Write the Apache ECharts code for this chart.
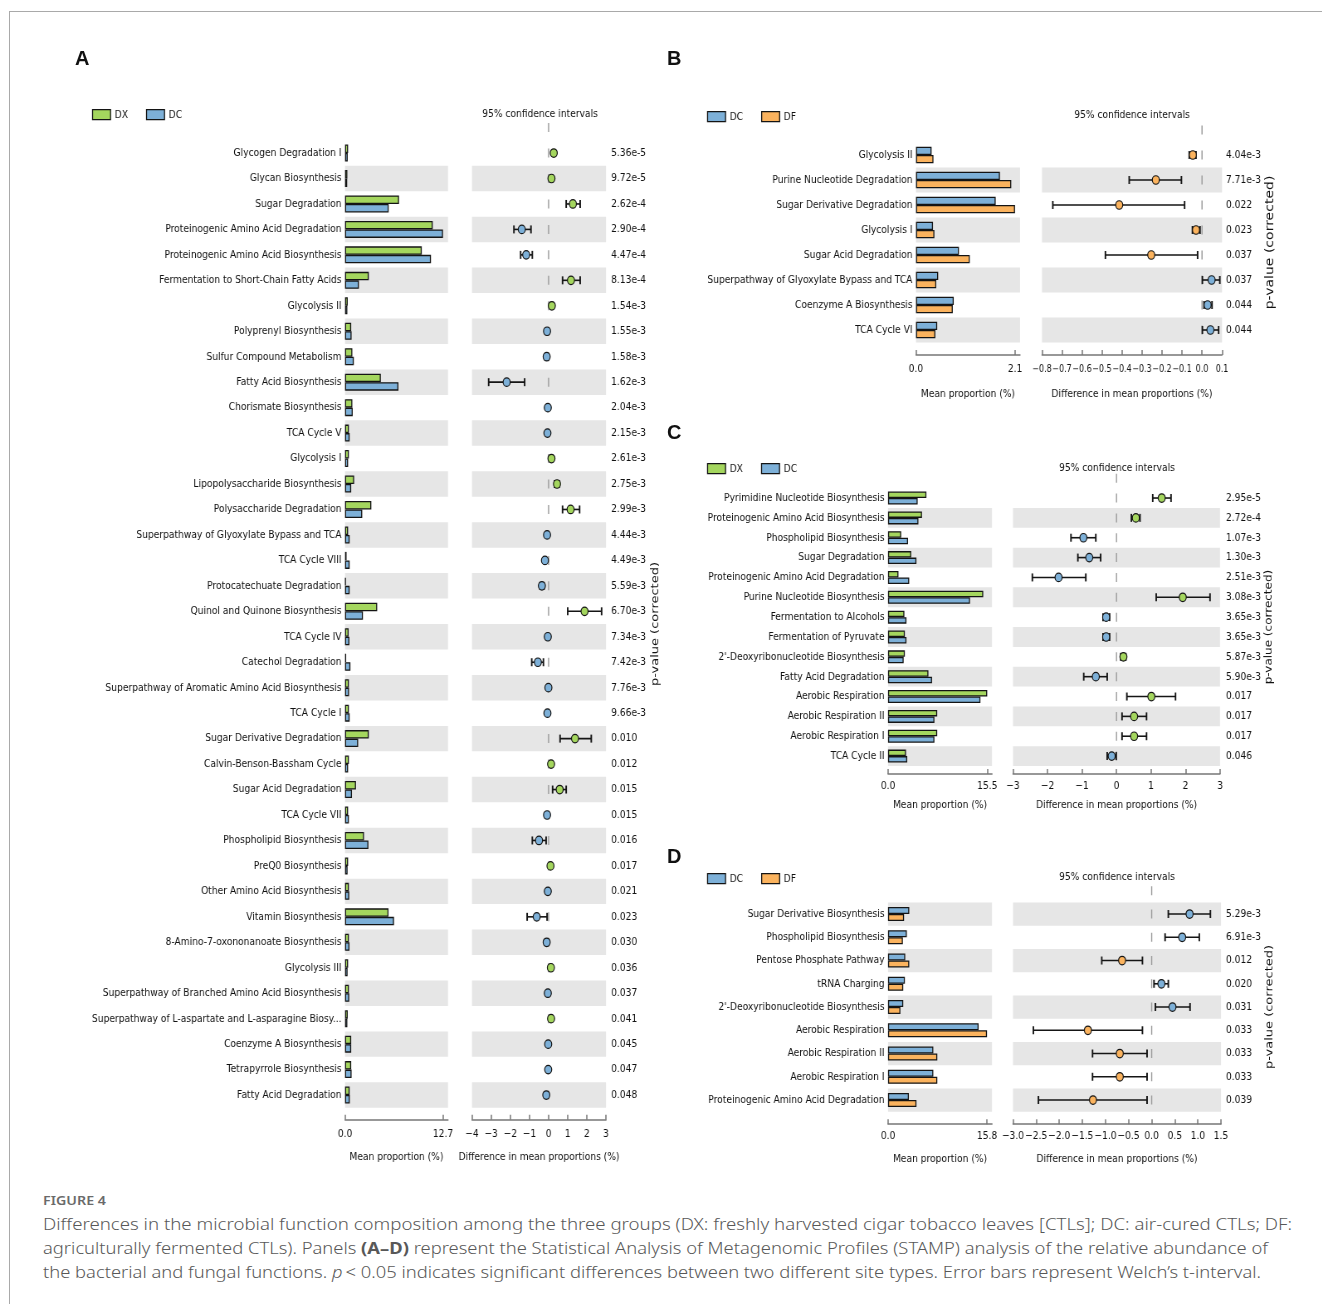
<!DOCTYPE html>
<html>
<head>
<meta charset="utf-8">
<script src="https://cdn.jsdelivr.net/npm/echarts@6/dist/echarts.min.js"></script>
<style>
  html, body { margin: 0; padding: 0; background: #fff; }
  body { width: 1322px; height: 1304px; position: relative; overflow: hidden; }
  #frame { position: absolute; left: 9px; top: 11px; width: 1400px; height: 1400px; border: 1px solid #a9a9a9; }
  /* the STAMP panels are drawn on a wider canvas and squeezed horizontally */
  #chart { position: absolute; left: 0; top: 0; width: 1593px; height: 1180px; transform: scaleX(0.83); transform-origin: 0 0; }
  .tag { position: absolute; font: bold 20px 'Liberation Sans', Arial, sans-serif; line-height: 22px; color: #111; }
  .ln { position: absolute; left: 43px; white-space: nowrap; transform-origin: 0 0; font-family: 'Noto Sans', sans-serif; }
  .fig { font-size: 13px; line-height: 16px; font-weight: 600; color: #6a6a6a; }
  .txt { font-size: 16.5px; line-height: 24px; font-weight: 300; color: #585858; }
</style>
</head>
<body>
<div id="frame"></div>
<div id="chart"></div>
<div class="tag" style="left:75px;top:47px">A</div>
<div class="tag" style="left:667px;top:47px">B</div>
<div class="tag" style="left:667px;top:421px">C</div>
<div class="tag" style="left:667px;top:845px">D</div>
<div class="ln fig" style="top:1192px" data-w="63">FIGURE 4</div>
<div class="ln txt" style="top:1212px" data-w="1249">Differences in the microbial function composition among the three groups (DX: freshly harvested cigar tobacco leaves [CTLs]; DC: air-cured CTLs; DF:</div>
<div class="ln txt" style="top:1236px" data-w="1225">agriculturally fermented CTLs). Panels <b style="font-weight:700">(A–D)</b> represent the Statistical Analysis of Metagenomic Profiles (STAMP) analysis of the relative abundance of</div>
<div class="ln txt" style="top:1260px" data-w="1218">the bacterial and fungal functions. <i>p</i>&thinsp;&lt; 0.05 indicates significant differences between two different site types. Error bars represent Welch’s t-interval.</div>
<script>
// ---------- Panel A: DX vs DC ----------
const groupsA = ['DX', 'DC'];
const namesA = ['Glycogen Degradation I', 'Glycan Biosynthesis', 'Sugar Degradation',
  'Proteinogenic Amino Acid Degradation', 'Proteinogenic Amino Acid Biosynthesis',
  'Fermentation to Short-Chain Fatty Acids', 'Glycolysis II', 'Polyprenyl Biosynthesis',
  'Sulfur Compound Metabolism', 'Fatty Acid Biosynthesis', 'Chorismate Biosynthesis', 'TCA Cycle V',
  'Glycolysis I', 'Lipopolysaccharide Biosynthesis', 'Polysaccharide Degradation',
  'Superpathway of Glyoxylate Bypass and TCA', 'TCA Cycle VIII', 'Protocatechuate Degradation',
  'Quinol and Quinone Biosynthesis', 'TCA Cycle IV', 'Catechol Degradation',
  'Superpathway of Aromatic Amino Acid Biosynthesis', 'TCA Cycle I', 'Sugar Derivative Degradation',
  'Calvin-Benson-Bassham Cycle', 'Sugar Acid Degradation', 'TCA Cycle VII', 'Phospholipid Biosynthesis',
  'PreQ0 Biosynthesis', 'Other Amino Acid Biosynthesis', 'Vitamin Biosynthesis',
  '8-Amino-7-oxononanoate Biosynthesis', 'Glycolysis III',
  'Superpathway of Branched Amino Acid Biosynthesis',
  'Superpathway of L-aspartate and L-asparagine Biosy...', 'Coenzyme A Biosynthesis',
  'Tetrapyrrole Biosynthesis', 'Fatty Acid Degradation'];
const dxA = [0.40, 0.30, 7.00, 11.37, 9.95, 3.08, 0.35, 0.80, 0.95, 4.64, 0.95, 0.50, 0.50, 1.18, 3.41,
  0.40, 0.20, 0.10, 4.17, 0.47, 0.15, 0.50, 0.50, 3.08, 0.50, 1.42, 0.40, 2.46, 0.40, 0.50, 5.64, 0.50,
  0.40, 0.50, 0.35, 0.80, 0.80, 0.60];
const dcA = [0.35, 0.28, 5.66, 12.70, 11.14, 1.80, 0.30, 0.85, 1.14, 6.92, 1.00, 0.60, 0.40, 0.80, 2.23,
  0.60, 0.60, 0.60, 2.32, 0.57, 0.70, 0.52, 0.60, 1.70, 0.40, 0.90, 0.50, 3.03, 0.33, 0.55, 6.35, 0.58,
  0.33, 0.55, 0.30, 0.80, 0.85, 0.62];
const diffA = [0.27, 0.15, 1.27, -1.40, -1.17, 1.17, 0.17, -0.08, -0.10, -2.19, -0.04, -0.06, 0.15, 0.44, 1.15,
  -0.08, -0.19, -0.35, 1.88, -0.04, -0.56, -0.01, -0.06, 1.38, 0.13, 0.58, -0.08, -0.50, 0.10, -0.04, -0.62,
  -0.10, 0.12, -0.04, 0.13, -0.02, -0.02, -0.12];
const lowA = [0.20, 0.09, 0.92, -1.81, -1.46, 0.73, 0.10, -0.14, -0.16, -3.13, -0.08, -0.10, 0.09, 0.31, 0.73,
  -0.13, -0.26, -0.45, 1.00, -0.08, -0.88, -0.02, -0.10, 0.60, 0.07, 0.21, -0.13, -0.85, 0.05, -0.08, -1.12,
  -0.16, 0.06, -0.08, 0.07, -0.04, -0.04, -0.18];
const highA = [0.34, 0.21, 1.65, -0.92, -0.85, 1.65, 0.24, -0.02, -0.04, -1.25, -0.01, -0.02, 0.21, 0.55, 1.62,
  -0.03, -0.12, -0.24, 2.77, -0.01, -0.27, -0.005, -0.02, 2.23, 0.19, 0.92, -0.03, -0.13, 0.15, -0.01, -0.08,
  -0.04, 0.18, -0.01, 0.19, -0.005, -0.005, -0.06];
const pA = ['5.36e-5', '9.72e-5', '2.62e-4', '2.90e-4', '4.47e-4', '8.13e-4', '1.54e-3', '1.55e-3', '1.58e-3',
  '1.62e-3', '2.04e-3', '2.15e-3', '2.61e-3', '2.75e-3', '2.99e-3', '4.44e-3', '4.49e-3', '5.59e-3', '6.70e-3',
  '7.34e-3', '7.42e-3', '7.76e-3', '9.66e-3', '0.010', '0.012', '0.015', '0.015', '0.016', '0.017', '0.021',
  '0.023', '0.030', '0.036', '0.037', '0.041', '0.045', '0.047', '0.048'];
const barTicksA = [0, 12.7];
const ciTicksA = [-4, -3, -2, -1, 0, 1, 2, 3];

// ---------- Panel B: DC vs DF ----------
const groupsB = ['DC', 'DF'];
const namesB = ['Glycolysis II', 'Purine Nucleotide Degradation', 'Sugar Derivative Degradation', 'Glycolysis I',
  'Sugar Acid Degradation', 'Superpathway of Glyoxylate Bypass and TCA', 'Coenzyme A Biosynthesis', 'TCA Cycle VI'];
const dcB = [0.33, 1.78, 1.69, 0.36, 0.91, 0.47, 0.80, 0.45];
const dfB = [0.37, 2.02, 2.10, 0.39, 1.14, 0.43, 0.78, 0.41];
const diffB = [-0.046, -0.231, -0.414, -0.030, -0.254, 0.048, 0.028, 0.042];
const lowB = [-0.064, -0.364, -0.746, -0.048, -0.483, 0.002, 0.010, 0.002];
const highB = [-0.030, -0.103, -0.087, -0.010, -0.022, 0.089, 0.050, 0.083];
const pB = ['4.04e-3', '7.71e-3', '0.022', '0.023', '0.037', '0.037', '0.044', '0.044'];
const barTicksB = [0, 2.1];
const ciTicksB = [-0.8, -0.7, -0.6, -0.5, -0.4, -0.3, -0.2, -0.1, 0, 0.1];

// ---------- Panel C: DX vs DC ----------
const groupsC = ['DX', 'DC'];
const namesC = ['Pyrimidine Nucleotide Biosynthesis', 'Proteinogenic Amino Acid Biosynthesis',
  'Phospholipid Biosynthesis', 'Sugar Degradation', 'Proteinogenic Amino Acid Degradation',
  'Purine Nucleotide Biosynthesis', 'Fermentation to Alcohols', 'Fermentation of Pyruvate',
  "2'-Deoxyribonucleotide Biosynthesis", 'Fatty Acid Degradation', 'Aerobic Respiration',
  'Aerobic Respiration II', 'Aerobic Respiration I', 'TCA Cycle II'];
const dxC = [6.00, 5.31, 2.06, 3.63, 1.63, 14.88, 2.56, 2.63, 2.63, 6.31, 15.50, 7.69, 7.69, 2.81];
const dcC = [4.63, 4.75, 3.13, 4.44, 3.31, 12.81, 2.88, 2.88, 2.44, 6.88, 14.44, 7.25, 7.25, 3.00];
const diffC = [1.31, 0.56, -0.96, -0.79, -1.68, 1.92, -0.30, -0.30, 0.20, -0.60, 1.01, 0.51, 0.51, -0.14];
const lowC = [1.05, 0.43, -1.32, -1.12, -2.44, 1.15, -0.39, -0.39, 0.12, -0.95, 0.30, 0.16, 0.16, -0.27];
const highC = [1.58, 0.68, -0.60, -0.46, -0.89, 2.71, -0.20, -0.20, 0.27, -0.27, 1.71, 0.87, 0.87, -0.01];
const pC = ['2.95e-5', '2.72e-4', '1.07e-3', '1.30e-3', '2.51e-3', '3.08e-3', '3.65e-3', '3.65e-3', '5.87e-3',
  '5.90e-3', '0.017', '0.017', '0.017', '0.046'];
const barTicksC = [0, 15.5];
const ciTicksC = [-3, -2, -1, 0, 1, 2, 3];

// ---------- Panel D: DC vs DF ----------
const groupsD = ['DC', 'DF'];
const namesD = ['Sugar Derivative Biosynthesis', 'Phospholipid Biosynthesis', 'Pentose Phosphate Pathway',
  'tRNA Charging', "2'-Deoxyribonucleotide Biosynthesis", 'Aerobic Respiration', 'Aerobic Respiration II',
  'Aerobic Respiration I', 'Proteinogenic Amino Acid Degradation'];
const dcD = [3.39, 3.00, 2.75, 2.69, 2.43, 14.46, 7.23, 7.23, 3.33];
const dfD = [2.56, 2.37, 3.39, 2.43, 1.98, 15.80, 7.87, 7.87, 4.54];
const diffD = [0.82, 0.66, -0.64, 0.21, 0.45, -1.38, -0.69, -0.69, -1.27];
const lowD = [0.36, 0.29, -1.08, 0.05, 0.08, -2.56, -1.28, -1.28, -2.45];
const highD = [1.27, 1.03, -0.20, 0.36, 0.83, -0.20, -0.10, -0.10, -0.10];
const pD = ['5.29e-3', '6.91e-3', '0.012', '0.020', '0.031', '0.033', '0.033', '0.033', '0.039'];
const barTicksD = [0, 15.8];
const ciTicksD = [-3, -2.5, -2, -1.5, -1, -0.5, 0, 0.5, 1, 1.5];

// ---------- styling ----------
const S = 0.83;                 // horizontal squeeze applied to the chart canvas
const px = v => v / S;          // screen x -> canvas x
const FONT = 'DejaVu Sans';
const INK = '#111111';
const BAND = '#e6e6e6';
const EDGE = '#141414';
const AXIS = '#777777';
const COLORS = { DX: '#a4d65e', DC: '#7db0d8', DF: '#fbb35e' };

// layout of each panel (screen pixels)
const layA = { barLeft: 345, barWidth: 103, barMax: 13.35, ciLeft: 472, ciWidth: 134, top: 140.3, rowH: 25.46,
  axisOffset: 12, labelMargin: 8.5, nameGap: 31.5, pGap: 5, pNameGap: 44, pNameSize: 13, shadeFirst: false,
  barW: 8.5, legendX: 92, legendY: 114, titleX: 540, titleY: 114, ciLabelSize: 11 };
const layB = { barLeft: 916, barWidth: 104, barMax: 2.206, ciLeft: 1042, ciWidth: 180, top: 142.5, rowH: 25,
  axisOffset: 12.5, labelMargin: 8.5, nameGap: 33.5, pGap: 4, pNameGap: 42, pNameSize: 14, shadeFirst: false,
  barW: 8.3, legendX: 707, legendY: 116, titleX: 1132, titleY: 115, ciLabelSize: 9.6 };
const layC = { barLeft: 888, barWidth: 104, barMax: 16.25, ciLeft: 1013, ciWidth: 207, top: 488.1, rowH: 19.85,
  axisOffset: 8, labelMargin: 6.5, nameGap: 25.5, pGap: 6, pNameGap: 42, pNameSize: 12, shadeFirst: false,
  barW: 6.5, legendX: 707, legendY: 468, titleX: 1117, titleY: 468, ciLabelSize: 11 };
const layD = { barLeft: 888, barWidth: 104, barMax: 16.6, ciLeft: 1013, ciWidth: 208, top: 902.4, rowH: 23.25,
  axisOffset: 12.5, labelMargin: 6.5, nameGap: 29.5, pGap: 5, pNameGap: 42, pNameSize: 13, shadeFirst: true,
  barW: 7, legendX: 707, legendY: 878, titleX: 1117, titleY: 877, ciLabelSize: 11 };

const panels = [
  { groups: groupsA, names: namesA, means: [dxA, dcA], diff: diffA, low: lowA, high: highA, pvals: pA,
    barTicks: barTicksA, ciTicks: ciTicksA, digits: 0, lay: layA },
  { groups: groupsB, names: namesB, means: [dcB, dfB], diff: diffB, low: lowB, high: highB, pvals: pB,
    barTicks: barTicksB, ciTicks: ciTicksB, digits: 1, lay: layB },
  { groups: groupsC, names: namesC, means: [dxC, dcC], diff: diffC, low: lowC, high: highC, pvals: pC,
    barTicks: barTicksC, ciTicks: ciTicksC, digits: 0, lay: layC },
  { groups: groupsD, names: namesD, means: [dcD, dfD], diff: diffD, low: lowD, high: highD, pvals: pD,
    barTicks: barTicksD, ciTicks: ciTicksD, digits: 1, lay: layD }
];

function fmtTick(v, d) {
  const s = Math.abs(v).toFixed(d);
  return (v < 0 && Number(s) !== 0 ? '\u2212' : '') + s;
}

const option = { animation: false, grid: [], xAxis: [], yAxis: [], series: [], legend: [], graphic: [] };

panels.forEach((p, k) => {
  const L = p.lay;
  const gi = 2 * k;
  const n = p.names.length;
  const height = n * L.rowH;
  const text = { fontFamily: FONT, fontSize: 11, color: INK };
  const line = { show: true, lineStyle: { color: AXIS, width: 1.5 } };
  const areaCols = L.shadeFirst ? [BAND, 'rgba(255,255,255,0)'] : ['rgba(255,255,255,0)', BAND];
  const ciMin = p.ciTicks[0] - 1e-9;
  const ciMax = p.ciTicks[p.ciTicks.length - 1] + 1e-9;

  option.grid.push(
    { left: px(L.barLeft), top: L.top, width: px(L.barWidth), height, outerBoundsMode: 'none' },
    { left: px(L.ciLeft), top: L.top, width: px(L.ciWidth), height, outerBoundsMode: 'none' }
  );

  option.xAxis.push(
    { gridIndex: gi, type: 'value', min: 0, max: L.barMax, offset: L.axisOffset,
      axisLine: line, splitLine: { show: false },
      axisTick: { show: true, inside: true, length: 5, lineStyle: { color: AXIS, width: 1.5 }, customValues: p.barTicks },
      axisLabel: { ...text, margin: L.labelMargin, hideOverlap: false, showMinLabel: true, showMaxLabel: true,
        customValues: p.barTicks, formatter: v => v.toFixed(1) },
      name: 'Mean proportion (%)', nameLocation: 'middle', nameGap: L.nameGap, nameTextStyle: text },
    { gridIndex: gi + 1, type: 'value', min: ciMin, max: ciMax, offset: L.axisOffset,
      axisLine: line, splitLine: { show: false },
      axisTick: { show: true, inside: true, length: 5, lineStyle: { color: AXIS, width: 1.5 }, customValues: p.ciTicks },
      axisLabel: { ...text, fontSize: L.ciLabelSize, margin: L.labelMargin + (11 - L.ciLabelSize) / 2,
        hideOverlap: false, showMinLabel: true, showMaxLabel: true,
        customValues: p.ciTicks, formatter: v => fmtTick(v, p.digits) },
      name: 'Difference in mean proportions (%)', nameLocation: 'middle', nameGap: L.nameGap, nameTextStyle: text }
  );

  option.yAxis.push(
    { gridIndex: gi, type: 'category', data: p.names, inverse: true,
      axisLine: { show: false }, axisTick: { show: false }, splitLine: { show: false },
      axisLabel: { ...text, interval: 0, margin: px(3.5) },
      splitArea: { show: true, interval: 0, areaStyle: { color: areaCols } } },
    { gridIndex: gi + 1, type: 'category', data: p.names, inverse: true, position: 'right',
      axisLine: { show: false }, axisTick: { show: false }, splitLine: { show: false },
      axisLabel: { ...text, interval: 0, margin: px(L.pGap), formatter: (v, i) => p.pvals[i] },
      splitArea: { show: true, interval: 0, areaStyle: { color: areaCols } },
      name: 'p-value (corrected)', nameLocation: 'middle', nameRotate: 90, nameGap: px(L.pNameGap),
      nameTextStyle: { fontFamily: FONT, fontSize: L.pNameSize, color: INK } }
  );

  // mean proportion bars
  p.groups.forEach((g, j) => {
    option.series.push({
      type: 'bar', name: g, xAxisIndex: gi, yAxisIndex: gi, data: p.means[j],
      barWidth: L.barW, barGap: '0%', silent: true,
      itemStyle: { color: COLORS[g], borderColor: EDGE, borderWidth: 1.3 }
    });
  });

  // dashed zero reference line
  option.series.push({
    type: 'custom', xAxisIndex: gi + 1, yAxisIndex: gi + 1, silent: true, z: 1, clip: false,
    data: [[0, 0]], encode: { x: 0, y: 1 },
    renderItem: (params, api) => {
      const cs = params.coordSys;
      const h = cs.height / n;
      const x = api.coord([0, 0])[0];
      const c0 = cs.y + h / 2;
      const cN = cs.y + cs.height - h / 2;
      return { type: 'line', shape: { x1: x, y1: c0 - 4.5 - h, x2: x, y2: cN + 4.5 },
        style: { stroke: '#9a9a9a', lineWidth: 1.4, lineDash: [9, h - 9] } };
    }
  });

  // 95% confidence interval whiskers
  option.series.push({
    type: 'custom', xAxisIndex: gi + 1, yAxisIndex: gi + 1, silent: true, z: 2,
    data: p.names.map((_, i) => [p.low[i], p.high[i], i]), encode: { x: [0, 1], y: 2 },
    renderItem: (params, api) => {
      const a = api.coord([api.value(0), api.value(2)]);
      const b = api.coord([api.value(1), api.value(2)]);
      const st = { stroke: '#151515', lineWidth: 1.6 };
      const cap = { stroke: '#151515', lineWidth: 1.9 };
      return { type: 'group', children: [
        { type: 'line', shape: { x1: a[0], y1: a[1], x2: b[0], y2: b[1] }, style: st },
        { type: 'line', shape: { x1: a[0], y1: a[1] - 4, x2: a[0], y2: a[1] + 4 }, style: cap },
        { type: 'line', shape: { x1: b[0], y1: b[1] - 4, x2: b[0], y2: b[1] + 4 }, style: cap }
      ] };
    }
  });

  // mean difference points, coloured by the group with the larger mean
  p.groups.forEach((g, j) => {
    option.series.push({
      type: 'scatter', name: g + ' difference', xAxisIndex: gi + 1, yAxisIndex: gi + 1, z: 3, silent: true,
      symbol: 'circle', symbolSize: 8.5,
      itemStyle: { color: COLORS[g], borderColor: EDGE, borderWidth: 1.2, opacity: 1 },
      data: p.diff.map((d, i) => [d, i]).filter(([d]) => (j === 0 ? d > 0 : d <= 0))
    });
  });

  option.legend.push({
    left: px(L.legendX), top: L.legendY - 5, orient: 'horizontal', padding: 0,
    itemWidth: px(18), itemHeight: 10, itemGap: px(18), icon: 'rect', selectedMode: false,
    data: p.groups, textStyle: text,
    itemStyle: { borderColor: EDGE, borderWidth: 1.3 }
  });

  option.graphic.push({
    type: 'text', x: px(L.titleX), y: L.titleY, silent: true,
    style: { text: '95% confidence intervals', fontFamily: FONT, fontSize: 11, fill: INK,
      align: 'center', textAlign: 'center', verticalAlign: 'middle', textVerticalAlign: 'middle' }
  });
});

const chart = echarts.init(document.getElementById('chart'), null, { renderer: 'canvas' });
chart.setOption(option);

// fit caption lines to their typeset widths
document.querySelectorAll('.ln').forEach(el => {
  el.style.display = 'inline-block';
  const w = el.getBoundingClientRect().width;
  const target = Number(el.dataset.w);
  if (w > 0) el.style.transform = 'scaleX(' + (target / w).toFixed(4) + ')';
});
</script>
</body>
</html>
